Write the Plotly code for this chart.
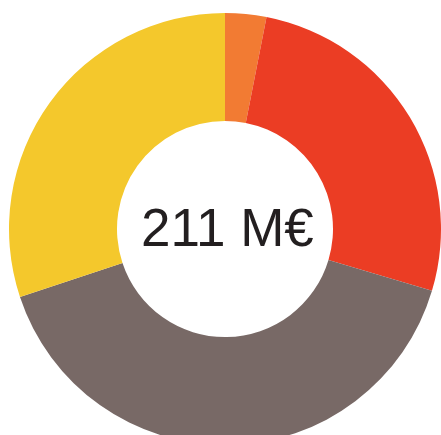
import plotly.graph_objects as go

labels = ["A", "B", "C", "D"]
values = [6.5, 56, 85, 63.5]
colors = ["#F27B33", "#EB3D24", "#786966", "#F4C82C"]
center_text = "211 M€"

W, H = 441, 445
cx, cy, r = 225, 229, 216  # pixel centre (from top) and outer radius

fig = go.Figure(go.Pie(
    labels=labels,
    values=values,
    hole=0.5,
    sort=False,
    direction="clockwise",
    rotation=0,
    marker=dict(colors=colors, line=dict(width=0)),
    textinfo="none",
    hoverinfo="label+value",
    showlegend=False,
    domain=dict(x=[(cx - r) / W, min(1, (cx + r) / W)],
                y=[max(0, (H - cy - r) / H), min(1, (H - cy + r) / H)]),
))

fig.add_annotation(
    x=(cx + 2) / W, y=(H - cy + 1) / H, xref="paper", yref="paper",
    text=center_text, showarrow=False,
    font=dict(family="Liberation Sans, Arial, sans-serif", size=53, color="#231F20"),
)

fig.update_layout(
    width=W, height=H,
    margin=dict(l=0, r=0, t=0, b=0),
    paper_bgcolor="white", plot_bgcolor="white",
)

fig.write_html("out.html",
               config={"displayModeBar": False},
               post_script="document.body.style.margin='0';document.body.style.overflow='hidden';document.documentElement.style.overflow='hidden';")
